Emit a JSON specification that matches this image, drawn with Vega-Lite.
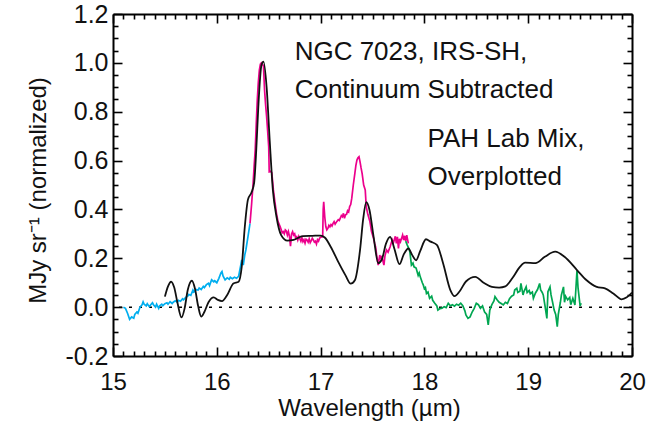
{
  "$schema": "https://vega.github.io/schema/vega-lite/v6.json",
  "width": 519,
  "height": 342,
  "autosize": "none",
  "padding": {"left": 113, "top": 14, "right": 17, "bottom": 71},
  "background": "white",
  "config": {
    "view": {"stroke": null},
    "font": "Liberation Sans",
    "axis": {
      "grid": false,
      "domainColor": "#000000",
      "domainWidth": 2,
      "tickColor": "#000000",
      "tickWidth": 1.6,
      "labelFont": "Liberation Sans",
      "labelFontSize": 24,
      "labelColor": "#111111",
      "titleFont": "Liberation Sans",
      "titleFontSize": 24,
      "titleFontWeight": "normal",
      "titleColor": "#111111"
    }
  },
  "datasets": {
    "obs": [
      {"seg": "a", "x": 15.10, "y": 0.000},
      {"seg": "a", "x": 15.12, "y": -0.005},
      {"seg": "a", "x": 15.14, "y": -0.025},
      {"seg": "a", "x": 15.16, "y": -0.050},
      {"seg": "a", "x": 15.18, "y": -0.040},
      {"seg": "a", "x": 15.20, "y": -0.045},
      {"seg": "a", "x": 15.21, "y": -0.030},
      {"seg": "a", "x": 15.23, "y": -0.020},
      {"seg": "a", "x": 15.24, "y": -0.025},
      {"seg": "a", "x": 15.26, "y": 0.000},
      {"seg": "a", "x": 15.28, "y": 0.010},
      {"seg": "a", "x": 15.29, "y": 0.022},
      {"seg": "a", "x": 15.30, "y": 0.012},
      {"seg": "a", "x": 15.32, "y": 0.005},
      {"seg": "a", "x": 15.33, "y": 0.014},
      {"seg": "a", "x": 15.35, "y": 0.002},
      {"seg": "a", "x": 15.36, "y": 0.008},
      {"seg": "a", "x": 15.38, "y": 0.018},
      {"seg": "a", "x": 15.39, "y": 0.010},
      {"seg": "a", "x": 15.41, "y": 0.000},
      {"seg": "a", "x": 15.42, "y": 0.012},
      {"seg": "a", "x": 15.44, "y": -0.005},
      {"seg": "a", "x": 15.45, "y": 0.006},
      {"seg": "a", "x": 15.47, "y": 0.012},
      {"seg": "a", "x": 15.48, "y": 0.006},
      {"seg": "a", "x": 15.50, "y": 0.014},
      {"seg": "a", "x": 15.52, "y": 0.018},
      {"seg": "a", "x": 15.53, "y": 0.012},
      {"seg": "a", "x": 15.55, "y": 0.022},
      {"seg": "a", "x": 15.57, "y": 0.015},
      {"seg": "a", "x": 15.58, "y": 0.020},
      {"seg": "a", "x": 15.60, "y": 0.026},
      {"seg": "a", "x": 15.62, "y": 0.020},
      {"seg": "a", "x": 15.63, "y": 0.028},
      {"seg": "a", "x": 15.65, "y": 0.024},
      {"seg": "a", "x": 15.67, "y": 0.034},
      {"seg": "a", "x": 15.68, "y": 0.030},
      {"seg": "a", "x": 15.70, "y": 0.040},
      {"seg": "a", "x": 15.72, "y": 0.045},
      {"seg": "a", "x": 15.73, "y": 0.052},
      {"seg": "a", "x": 15.75, "y": 0.048},
      {"seg": "a", "x": 15.77, "y": 0.070},
      {"seg": "a", "x": 15.78, "y": 0.062},
      {"seg": "a", "x": 15.80, "y": 0.072},
      {"seg": "a", "x": 15.82, "y": 0.070},
      {"seg": "a", "x": 15.83, "y": 0.078},
      {"seg": "a", "x": 15.85, "y": 0.072},
      {"seg": "a", "x": 15.87, "y": 0.085},
      {"seg": "a", "x": 15.88, "y": 0.080},
      {"seg": "a", "x": 15.90, "y": 0.092},
      {"seg": "a", "x": 15.92, "y": 0.098},
      {"seg": "a", "x": 15.93, "y": 0.088},
      {"seg": "a", "x": 15.95, "y": 0.112},
      {"seg": "a", "x": 15.97, "y": 0.104},
      {"seg": "a", "x": 15.98, "y": 0.108},
      {"seg": "a", "x": 16.00, "y": 0.100},
      {"seg": "a", "x": 16.02, "y": 0.118},
      {"seg": "a", "x": 16.04, "y": 0.140},
      {"seg": "a", "x": 16.05, "y": 0.146},
      {"seg": "a", "x": 16.06, "y": 0.128},
      {"seg": "a", "x": 16.08, "y": 0.112},
      {"seg": "a", "x": 16.10, "y": 0.120},
      {"seg": "a", "x": 16.12, "y": 0.114},
      {"seg": "a", "x": 16.13, "y": 0.122},
      {"seg": "a", "x": 16.15, "y": 0.116},
      {"seg": "a", "x": 16.17, "y": 0.122},
      {"seg": "a", "x": 16.19, "y": 0.118},
      {"seg": "a", "x": 16.21, "y": 0.126},
      {"seg": "a", "x": 16.23, "y": 0.170},
      {"seg": "a", "x": 16.24, "y": 0.193},
      {"seg": "a", "x": 16.255, "y": 0.172},
      {"seg": "a", "x": 16.27, "y": 0.215},
      {"seg": "a", "x": 16.28, "y": 0.234},
      {"seg": "a", "x": 16.30, "y": 0.288},
      {"seg": "a", "x": 16.32, "y": 0.343},
      {"seg": "b", "x": 16.32, "y": 0.343},
      {"seg": "b", "x": 16.335, "y": 0.420},
      {"seg": "b", "x": 16.35, "y": 0.507},
      {"seg": "b", "x": 16.36, "y": 0.580},
      {"seg": "b", "x": 16.37, "y": 0.643},
      {"seg": "b", "x": 16.38, "y": 0.750},
      {"seg": "b", "x": 16.39, "y": 0.848},
      {"seg": "b", "x": 16.40, "y": 0.920},
      {"seg": "b", "x": 16.41, "y": 0.970},
      {"seg": "b", "x": 16.42, "y": 0.995},
      {"seg": "b", "x": 16.43, "y": 1.000},
      {"seg": "b", "x": 16.44, "y": 0.995},
      {"seg": "b", "x": 16.45, "y": 0.985},
      {"seg": "b", "x": 16.46, "y": 0.889},
      {"seg": "b", "x": 16.47, "y": 0.830},
      {"seg": "b", "x": 16.48, "y": 0.780},
      {"seg": "b", "x": 16.49, "y": 0.720},
      {"seg": "b", "x": 16.50, "y": 0.657},
      {"seg": "b", "x": 16.505, "y": 0.554},
      {"seg": "b", "x": 16.52, "y": 0.556},
      {"seg": "b", "x": 16.53, "y": 0.550},
      {"seg": "b", "x": 16.545, "y": 0.480},
      {"seg": "b", "x": 16.56, "y": 0.430},
      {"seg": "b", "x": 16.575, "y": 0.384},
      {"seg": "b", "x": 16.59, "y": 0.350},
      {"seg": "b", "x": 16.61, "y": 0.330},
      {"seg": "b", "x": 16.63, "y": 0.305},
      {"seg": "b", "x": 16.64, "y": 0.309},
      {"seg": "b", "x": 16.65, "y": 0.300},
      {"seg": "b", "x": 16.66, "y": 0.316},
      {"seg": "b", "x": 16.67, "y": 0.312},
      {"seg": "b", "x": 16.68, "y": 0.295},
      {"seg": "b", "x": 16.69, "y": 0.309},
      {"seg": "b", "x": 16.70, "y": 0.290},
      {"seg": "b", "x": 16.71, "y": 0.250},
      {"seg": "b", "x": 16.72, "y": 0.300},
      {"seg": "b", "x": 16.73, "y": 0.309},
      {"seg": "b", "x": 16.74, "y": 0.295},
      {"seg": "b", "x": 16.75, "y": 0.300},
      {"seg": "b", "x": 16.76, "y": 0.282},
      {"seg": "b", "x": 16.77, "y": 0.288},
      {"seg": "b", "x": 16.78, "y": 0.275},
      {"seg": "b", "x": 16.79, "y": 0.290},
      {"seg": "b", "x": 16.80, "y": 0.280},
      {"seg": "b", "x": 16.81, "y": 0.270},
      {"seg": "b", "x": 16.82, "y": 0.284},
      {"seg": "b", "x": 16.83, "y": 0.268},
      {"seg": "b", "x": 16.84, "y": 0.276},
      {"seg": "b", "x": 16.85, "y": 0.262},
      {"seg": "b", "x": 16.86, "y": 0.278},
      {"seg": "b", "x": 16.87, "y": 0.275},
      {"seg": "b", "x": 16.88, "y": 0.266},
      {"seg": "b", "x": 16.89, "y": 0.280},
      {"seg": "b", "x": 16.90, "y": 0.264},
      {"seg": "b", "x": 16.91, "y": 0.272},
      {"seg": "b", "x": 16.92, "y": 0.282},
      {"seg": "b", "x": 16.93, "y": 0.275},
      {"seg": "b", "x": 16.94, "y": 0.266},
      {"seg": "b", "x": 16.95, "y": 0.270},
      {"seg": "b", "x": 16.96, "y": 0.258},
      {"seg": "b", "x": 16.97, "y": 0.276},
      {"seg": "b", "x": 16.98, "y": 0.270},
      {"seg": "b", "x": 16.99, "y": 0.282},
      {"seg": "b", "x": 17.00, "y": 0.286},
      {"seg": "b", "x": 17.02, "y": 0.288},
      {"seg": "b", "x": 17.025, "y": 0.400},
      {"seg": "b", "x": 17.03, "y": 0.431},
      {"seg": "b", "x": 17.035, "y": 0.400},
      {"seg": "b", "x": 17.04, "y": 0.370},
      {"seg": "b", "x": 17.05, "y": 0.330},
      {"seg": "b", "x": 17.06, "y": 0.316},
      {"seg": "b", "x": 17.07, "y": 0.322},
      {"seg": "b", "x": 17.08, "y": 0.335},
      {"seg": "b", "x": 17.09, "y": 0.329},
      {"seg": "b", "x": 17.10, "y": 0.338},
      {"seg": "b", "x": 17.11, "y": 0.332},
      {"seg": "b", "x": 17.12, "y": 0.343},
      {"seg": "b", "x": 17.13, "y": 0.350},
      {"seg": "b", "x": 17.14, "y": 0.340},
      {"seg": "b", "x": 17.155, "y": 0.350},
      {"seg": "b", "x": 17.17, "y": 0.358},
      {"seg": "b", "x": 17.18, "y": 0.355},
      {"seg": "b", "x": 17.19, "y": 0.364},
      {"seg": "b", "x": 17.20, "y": 0.375},
      {"seg": "b", "x": 17.21, "y": 0.370},
      {"seg": "b", "x": 17.22, "y": 0.384},
      {"seg": "b", "x": 17.23, "y": 0.364},
      {"seg": "b", "x": 17.24, "y": 0.378},
      {"seg": "b", "x": 17.25, "y": 0.380},
      {"seg": "b", "x": 17.26, "y": 0.395},
      {"seg": "b", "x": 17.27, "y": 0.390},
      {"seg": "b", "x": 17.28, "y": 0.412},
      {"seg": "b", "x": 17.29, "y": 0.420},
      {"seg": "b", "x": 17.30, "y": 0.445},
      {"seg": "b", "x": 17.315, "y": 0.500},
      {"seg": "b", "x": 17.33, "y": 0.548},
      {"seg": "b", "x": 17.34, "y": 0.580},
      {"seg": "b", "x": 17.35, "y": 0.602},
      {"seg": "b", "x": 17.36, "y": 0.612},
      {"seg": "b", "x": 17.37, "y": 0.616},
      {"seg": "b", "x": 17.38, "y": 0.595},
      {"seg": "b", "x": 17.39, "y": 0.570},
      {"seg": "b", "x": 17.40, "y": 0.548},
      {"seg": "b", "x": 17.415, "y": 0.500},
      {"seg": "b", "x": 17.43, "y": 0.480},
      {"seg": "b", "x": 17.44, "y": 0.410},
      {"seg": "b", "x": 17.455, "y": 0.380},
      {"seg": "b", "x": 17.475, "y": 0.350},
      {"seg": "b", "x": 17.49, "y": 0.310},
      {"seg": "b", "x": 17.51, "y": 0.282},
      {"seg": "b", "x": 17.52, "y": 0.262},
      {"seg": "b", "x": 17.53, "y": 0.247},
      {"seg": "b", "x": 17.54, "y": 0.213},
      {"seg": "b", "x": 17.555, "y": 0.172},
      {"seg": "b", "x": 17.57, "y": 0.213},
      {"seg": "b", "x": 17.58, "y": 0.200},
      {"seg": "b", "x": 17.59, "y": 0.206},
      {"seg": "b", "x": 17.60, "y": 0.190},
      {"seg": "b", "x": 17.61, "y": 0.172},
      {"seg": "b", "x": 17.62, "y": 0.210},
      {"seg": "b", "x": 17.635, "y": 0.234},
      {"seg": "b", "x": 17.65, "y": 0.225},
      {"seg": "b", "x": 17.67, "y": 0.247},
      {"seg": "b", "x": 17.68, "y": 0.262},
      {"seg": "b", "x": 17.69, "y": 0.275},
      {"seg": "b", "x": 17.70, "y": 0.262},
      {"seg": "b", "x": 17.72, "y": 0.290},
      {"seg": "b", "x": 17.73, "y": 0.261},
      {"seg": "b", "x": 17.74, "y": 0.288},
      {"seg": "b", "x": 17.75, "y": 0.240},
      {"seg": "b", "x": 17.76, "y": 0.280},
      {"seg": "b", "x": 17.77, "y": 0.268},
      {"seg": "b", "x": 17.79, "y": 0.295},
      {"seg": "b", "x": 17.80, "y": 0.275},
      {"seg": "b", "x": 17.81, "y": 0.292},
      {"seg": "b", "x": 17.82, "y": 0.270},
      {"seg": "b", "x": 17.83, "y": 0.295},
      {"seg": "b", "x": 17.845, "y": 0.261},
      {"seg": "c", "x": 17.82, "y": 0.270},
      {"seg": "c", "x": 17.835, "y": 0.254},
      {"seg": "c", "x": 17.85, "y": 0.240},
      {"seg": "c", "x": 17.86, "y": 0.227},
      {"seg": "c", "x": 17.875, "y": 0.172},
      {"seg": "c", "x": 17.89, "y": 0.180},
      {"seg": "c", "x": 17.90, "y": 0.165},
      {"seg": "c", "x": 17.92, "y": 0.160},
      {"seg": "c", "x": 17.94, "y": 0.130},
      {"seg": "c", "x": 17.95, "y": 0.140},
      {"seg": "c", "x": 17.96, "y": 0.124},
      {"seg": "c", "x": 17.98, "y": 0.100},
      {"seg": "c", "x": 17.99, "y": 0.090},
      {"seg": "c", "x": 18.00, "y": 0.075},
      {"seg": "c", "x": 18.01, "y": 0.080},
      {"seg": "c", "x": 18.02, "y": 0.056},
      {"seg": "c", "x": 18.035, "y": 0.062},
      {"seg": "c", "x": 18.05, "y": 0.036},
      {"seg": "c", "x": 18.07, "y": 0.045},
      {"seg": "c", "x": 18.08, "y": 0.028},
      {"seg": "c", "x": 18.10, "y": 0.016},
      {"seg": "c", "x": 18.12, "y": 0.005},
      {"seg": "c", "x": 18.13, "y": -0.012},
      {"seg": "c", "x": 18.15, "y": -0.006},
      {"seg": "c", "x": 18.17, "y": -0.004},
      {"seg": "c", "x": 18.19, "y": 0.002},
      {"seg": "c", "x": 18.21, "y": -0.002},
      {"seg": "c", "x": 18.23, "y": 0.016},
      {"seg": "c", "x": 18.25, "y": 0.006},
      {"seg": "c", "x": 18.27, "y": 0.010},
      {"seg": "c", "x": 18.29, "y": 0.004},
      {"seg": "c", "x": 18.31, "y": 0.012},
      {"seg": "c", "x": 18.33, "y": 0.008},
      {"seg": "c", "x": 18.35, "y": 0.016},
      {"seg": "c", "x": 18.37, "y": 0.006},
      {"seg": "c", "x": 18.39, "y": -0.015},
      {"seg": "c", "x": 18.40, "y": -0.032},
      {"seg": "c", "x": 18.42, "y": -0.046},
      {"seg": "c", "x": 18.44, "y": -0.040},
      {"seg": "c", "x": 18.46, "y": -0.020},
      {"seg": "c", "x": 18.48, "y": -0.005},
      {"seg": "c", "x": 18.50, "y": 0.016},
      {"seg": "c", "x": 18.52, "y": 0.010},
      {"seg": "c", "x": 18.54, "y": -0.005},
      {"seg": "c", "x": 18.56, "y": 0.005},
      {"seg": "c", "x": 18.58, "y": -0.020},
      {"seg": "c", "x": 18.60, "y": -0.030},
      {"seg": "c", "x": 18.615, "y": -0.073},
      {"seg": "c", "x": 18.63, "y": -0.012},
      {"seg": "c", "x": 18.65, "y": 0.010},
      {"seg": "c", "x": 18.67, "y": 0.025},
      {"seg": "c", "x": 18.68, "y": 0.043},
      {"seg": "c", "x": 18.70, "y": 0.030},
      {"seg": "c", "x": 18.72, "y": 0.020},
      {"seg": "c", "x": 18.74, "y": 0.015},
      {"seg": "c", "x": 18.76, "y": 0.009},
      {"seg": "c", "x": 18.78, "y": 0.020},
      {"seg": "c", "x": 18.80, "y": 0.015},
      {"seg": "c", "x": 18.82, "y": 0.035},
      {"seg": "c", "x": 18.84, "y": 0.045},
      {"seg": "c", "x": 18.86, "y": 0.050},
      {"seg": "c", "x": 18.87, "y": 0.070},
      {"seg": "c", "x": 18.89, "y": 0.077},
      {"seg": "c", "x": 18.90, "y": 0.060},
      {"seg": "c", "x": 18.92, "y": 0.065},
      {"seg": "c", "x": 18.93, "y": 0.097},
      {"seg": "c", "x": 18.95, "y": 0.050},
      {"seg": "c", "x": 18.96, "y": 0.065},
      {"seg": "c", "x": 18.98, "y": 0.083},
      {"seg": "c", "x": 18.99, "y": 0.060},
      {"seg": "c", "x": 19.01, "y": 0.068},
      {"seg": "c", "x": 19.02, "y": 0.055},
      {"seg": "c", "x": 19.04, "y": 0.062},
      {"seg": "c", "x": 19.05, "y": 0.036},
      {"seg": "c", "x": 19.07, "y": 0.058},
      {"seg": "c", "x": 19.09, "y": 0.072},
      {"seg": "c", "x": 19.11, "y": 0.097},
      {"seg": "c", "x": 19.12, "y": 0.070},
      {"seg": "c", "x": 19.135, "y": 0.060},
      {"seg": "c", "x": 19.145, "y": 0.050},
      {"seg": "c", "x": 19.16, "y": 0.010},
      {"seg": "c", "x": 19.18, "y": -0.046},
      {"seg": "c", "x": 19.19, "y": 0.063},
      {"seg": "c", "x": 19.21, "y": 0.083},
      {"seg": "c", "x": 19.22, "y": 0.050},
      {"seg": "c", "x": 19.235, "y": 0.020},
      {"seg": "c", "x": 19.25, "y": -0.012},
      {"seg": "c", "x": 19.265, "y": -0.030},
      {"seg": "c", "x": 19.28, "y": -0.080},
      {"seg": "c", "x": 19.29, "y": -0.030},
      {"seg": "c", "x": 19.31, "y": 0.020},
      {"seg": "c", "x": 19.32, "y": 0.050},
      {"seg": "c", "x": 19.34, "y": 0.083},
      {"seg": "c", "x": 19.35, "y": 0.020},
      {"seg": "c", "x": 19.36, "y": 0.045},
      {"seg": "c", "x": 19.38, "y": 0.030},
      {"seg": "c", "x": 19.40, "y": 0.040},
      {"seg": "c", "x": 19.41, "y": 0.010},
      {"seg": "c", "x": 19.43, "y": 0.036},
      {"seg": "c", "x": 19.45, "y": 0.009},
      {"seg": "c", "x": 19.47, "y": 0.150},
      {"seg": "c", "x": 19.48, "y": 0.080},
      {"seg": "c", "x": 19.50, "y": 0.005},
      {"seg": "c", "x": 19.51, "y": 0.016}
    ],
    "lab": [
      {"x": 15.50, "y": 0.043},
      {"x": 15.53, "y": 0.085},
      {"x": 15.56, "y": 0.104},
      {"x": 15.59, "y": 0.080},
      {"x": 15.62, "y": 0.020},
      {"x": 15.66, "y": -0.042},
      {"x": 15.69, "y": -0.005},
      {"x": 15.72, "y": 0.070},
      {"x": 15.76, "y": 0.108},
      {"x": 15.79, "y": 0.075},
      {"x": 15.82, "y": 0.005},
      {"x": 15.85, "y": -0.039},
      {"x": 15.88, "y": -0.020},
      {"x": 15.92, "y": 0.020},
      {"x": 15.97, "y": 0.040},
      {"x": 16.01, "y": 0.030},
      {"x": 16.05, "y": 0.025},
      {"x": 16.10, "y": 0.050},
      {"x": 16.16, "y": 0.097},
      {"x": 16.21, "y": 0.104},
      {"x": 16.24, "y": 0.165},
      {"x": 16.27, "y": 0.330},
      {"x": 16.30, "y": 0.440},
      {"x": 16.335, "y": 0.470},
      {"x": 16.36, "y": 0.510},
      {"x": 16.38, "y": 0.643},
      {"x": 16.40, "y": 0.820},
      {"x": 16.43, "y": 0.990},
      {"x": 16.45, "y": 1.005},
      {"x": 16.48, "y": 0.900},
      {"x": 16.51, "y": 0.680},
      {"x": 16.54, "y": 0.480},
      {"x": 16.575, "y": 0.370},
      {"x": 16.62, "y": 0.295},
      {"x": 16.68, "y": 0.272},
      {"x": 16.74, "y": 0.275},
      {"x": 16.83, "y": 0.291},
      {"x": 16.92, "y": 0.292},
      {"x": 17.00, "y": 0.293},
      {"x": 17.04, "y": 0.285},
      {"x": 17.10, "y": 0.245},
      {"x": 17.17, "y": 0.185},
      {"x": 17.24, "y": 0.130},
      {"x": 17.29, "y": 0.096},
      {"x": 17.33, "y": 0.110},
      {"x": 17.38, "y": 0.234},
      {"x": 17.41, "y": 0.360},
      {"x": 17.44, "y": 0.430},
      {"x": 17.47, "y": 0.400},
      {"x": 17.51, "y": 0.290},
      {"x": 17.555, "y": 0.180},
      {"x": 17.59, "y": 0.195},
      {"x": 17.63, "y": 0.260},
      {"x": 17.67, "y": 0.288},
      {"x": 17.71, "y": 0.240},
      {"x": 17.76, "y": 0.176},
      {"x": 17.80, "y": 0.215},
      {"x": 17.845, "y": 0.240},
      {"x": 17.88, "y": 0.215},
      {"x": 17.92, "y": 0.192},
      {"x": 17.96, "y": 0.230},
      {"x": 18.015, "y": 0.278},
      {"x": 18.06, "y": 0.268},
      {"x": 18.12, "y": 0.255},
      {"x": 18.18, "y": 0.180},
      {"x": 18.25, "y": 0.070},
      {"x": 18.29, "y": 0.045},
      {"x": 18.34, "y": 0.065},
      {"x": 18.40, "y": 0.105},
      {"x": 18.49, "y": 0.124},
      {"x": 18.57, "y": 0.100},
      {"x": 18.65, "y": 0.083},
      {"x": 18.72, "y": 0.080},
      {"x": 18.78, "y": 0.085},
      {"x": 18.85, "y": 0.120},
      {"x": 18.92, "y": 0.165},
      {"x": 18.97, "y": 0.182},
      {"x": 19.07, "y": 0.180},
      {"x": 19.16, "y": 0.206},
      {"x": 19.26, "y": 0.227},
      {"x": 19.35, "y": 0.206},
      {"x": 19.47, "y": 0.152},
      {"x": 19.56, "y": 0.111},
      {"x": 19.66, "y": 0.083},
      {"x": 19.74, "y": 0.077},
      {"x": 19.82, "y": 0.056},
      {"x": 19.90, "y": 0.032},
      {"x": 19.95, "y": 0.040},
      {"x": 20.00, "y": 0.060}
    ],
    "notes": [
      {"tx": 16.75, "ty": 1.011, "label": "NGC 7023, IRS-SH,"},
      {"tx": 16.75, "ty": 0.856, "label": "Continuum Subtracted"},
      {"tx": 18.03, "ty": 0.655, "label": "PAH Lab Mix,"},
      {"tx": 18.03, "ty": 0.498, "label": "Overplotted"}
    ]
  },
  "layer": [
    {
      "data": {"values": [{"z": 0}]},
      "mark": {"type": "rule", "color": "#000000", "strokeWidth": 1.5, "strokeDash": [3, 7]},
      "encoding": {
        "y": {"field": "z", "type": "quantitative", "axis": null, "scale": {"domain": [-0.2, 1.2], "nice": false, "zero": false}}
      }
    },
    {
      "data": {"name": "obs"},
      "mark": {"type": "line", "strokeWidth": 1.7, "clip": true},
      "encoding": {
        "x": {
          "field": "x", "type": "quantitative",
          "scale": {"domain": [15, 20], "nice": false, "zero": false},
          "axis": {
            "orient": "bottom",
            "title": "Wavelength (µm)",
            "titleX": 256,
            "titleY": 59,
            "titleAlign": "center",
            "titleBaseline": "alphabetic",
            "values": [15, 16, 17, 18, 19, 20],
            "format": "d",
            "ticks": false,
            "labelPadding": 14,
            "labelFlush": false,
            "labelOverlap": false
          }
        },
        "y": {
          "field": "y", "type": "quantitative",
          "scale": {"domain": [-0.2, 1.2], "nice": false, "zero": false},
          "axis": {
            "orient": "left",
            "title": "MJy sr⁻¹ (normalized)",
            "titleX": -68,
            "titleY": 176,
            "titleAngle": -90,
            "titleAlign": "center",
            "titleBaseline": "alphabetic",
            "values": [-0.2, 0, 0.2, 0.4, 0.6, 0.8, 1, 1.2],
            "labelExpr": "replace(format(datum.value, '.1f'), '−', '-')",
            "labelFontSize": 25,
            "ticks": false,
            "labelPadding": 5,
            "labelFlush": false,
            "labelOverlap": false
          }
        },
        "color": {
          "field": "seg", "type": "nominal", "legend": null,
          "scale": {"domain": ["a", "b", "c"], "range": ["#00AEEF", "#EC008C", "#00A651"]}
        }
      }
    },
    {
      "data": {"name": "lab"},
      "mark": {"type": "line", "color": "#111111", "strokeWidth": 1.8, "interpolate": "monotone", "clip": true},
      "encoding": {
        "x": {
          "field": "x", "type": "quantitative",
          "scale": {"domain": [15, 20], "nice": false, "zero": false},
          "axis": {
            "orient": "top",
            "title": null,
            "labels": false,
            "values": [15,15.1,15.2,15.3,15.4,15.5,15.6,15.7,15.8,15.9,16,16.1,16.2,16.3,16.4,16.5,16.6,16.7,16.8,16.9,17,17.1,17.2,17.3,17.4,17.5,17.6,17.7,17.8,17.9,18,18.1,18.2,18.3,18.4,18.5,18.6,18.7,18.8,18.9,19,19.1,19.2,19.3,19.4,19.5,19.6,19.7,19.8,19.9,20],
            "tickSize": {"condition": {"test": "abs(datum.value - round(datum.value)) < 0.001", "value": -9}, "value": -5}
          }
        },
        "y": {
          "field": "y", "type": "quantitative",
          "scale": {"domain": [-0.2, 1.2], "nice": false, "zero": false},
          "axis": {
            "orient": "right",
            "title": null,
            "labels": false,
            "values": [-0.2,-0.15,-0.1,-0.05,0,0.05,0.1,0.15,0.2,0.25,0.3,0.35,0.4,0.45,0.5,0.55,0.6,0.65,0.7,0.75,0.8,0.85,0.9,0.95,1,1.05,1.1,1.15,1.2],
            "tickSize": {"condition": {"test": "abs(datum.value * 5 - round(datum.value * 5)) < 0.01", "value": -9}, "value": -5}
          }
        }
      }
    },
    {
      "data": {"name": "notes"},
      "mark": {"type": "text", "align": "left", "baseline": "alphabetic", "fontSize": 26, "font": "Liberation Sans", "color": "#111111"},
      "encoding": {
        "x": {
          "field": "tx", "type": "quantitative",
          "scale": {"domain": [15, 20], "nice": false, "zero": false},
          "axis": {
            "orient": "bottom",
            "title": null,
            "labels": false,
            "domain": false,
            "values": [15,15.1,15.2,15.3,15.4,15.5,15.6,15.7,15.8,15.9,16,16.1,16.2,16.3,16.4,16.5,16.6,16.7,16.8,16.9,17,17.1,17.2,17.3,17.4,17.5,17.6,17.7,17.8,17.9,18,18.1,18.2,18.3,18.4,18.5,18.6,18.7,18.8,18.9,19,19.1,19.2,19.3,19.4,19.5,19.6,19.7,19.8,19.9,20],
            "tickSize": {"condition": {"test": "abs(datum.value - round(datum.value)) < 0.001", "value": -9}, "value": -5}
          }
        },
        "y": {
          "field": "ty", "type": "quantitative",
          "scale": {"domain": [-0.2, 1.2], "nice": false, "zero": false},
          "axis": {
            "orient": "left",
            "title": null,
            "labels": false,
            "domain": false,
            "values": [-0.2,-0.15,-0.1,-0.05,0,0.05,0.1,0.15,0.2,0.25,0.3,0.35,0.4,0.45,0.5,0.55,0.6,0.65,0.7,0.75,0.8,0.85,0.9,0.95,1,1.05,1.1,1.15,1.2],
            "tickSize": {"condition": {"test": "abs(datum.value * 5 - round(datum.value * 5)) < 0.01", "value": -9}, "value": -5}
          }
        },
        "text": {"field": "label"}
      }
    }
  ],
  "resolve": {"axis": {"x": "independent", "y": "independent"}}
}
